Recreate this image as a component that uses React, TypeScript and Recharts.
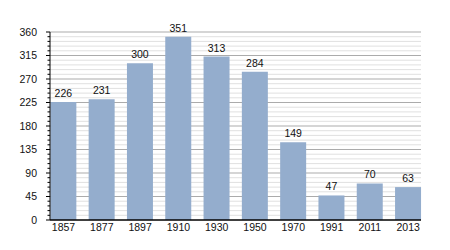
import React from "react";
import { BarChart, Bar, XAxis, YAxis, CartesianGrid, LabelList } from "recharts";

const years = ["1857", "1877", "1897", "1910", "1930", "1950", "1970", "1991", "2011", "2013"];
const population = [226, 231, 300, 351, 313, 284, 149, 47, 70, 63];
const majorTicks = [0, 45, 90, 135, 180, 225, 270, 315, 360];
const minorTicks = [
  9, 18, 27, 36, 54, 63, 72, 81, 99, 108, 117, 126, 144, 153, 162, 171, 189, 198, 207, 216,
  234, 243, 252, 261, 279, 288, 297, 306, 324, 333, 342, 351,
];
const allTicks = [...majorTicks, ...minorTicks].sort((a, b) => a - b);

const data = years.map((y, i) => ({ year: y, value: population[i] }));

const FONT = "'Liberation Sans', Arial, sans-serif";

const YTick = (props: any) => {
  const { x, y, payload } = props;
  const v = payload.value as number;
  const major = v % 45 === 0;
  return (
    <g>
      <line x1={x - (major ? 4 : 2.5)} x2={x} y1={y} y2={y} stroke="#000" strokeWidth={1} />
      {major && (
        <text x={x - 13} y={y} dy="0.355em" textAnchor="end" fontSize={10.5} fontFamily={FONT} fill="#111">
          {v}
        </text>
      )}
    </g>
  );
};

export default function App() {
  return (
    <div style={{ margin: -8, width: 450, height: 250, background: "#fff" }}>
      <BarChart
        width={450}
        height={250}
        data={data}
        margin={{ top: 32, right: 29, left: 0, bottom: 0 }}
      >
        <CartesianGrid vertical={false} horizontalValues={minorTicks} stroke="#e0e0e0" strokeWidth={1} />
        <CartesianGrid
          vertical={false}
          horizontalValues={majorTicks.filter((v) => v > 0)}
          stroke="#ababab"
          strokeWidth={1}
        />
        <XAxis
          dataKey="year"
          height={30}
          tickLine={false}
          tickSize={0}
          tickMargin={4}
          axisLine={{ stroke: "#000", strokeWidth: 1.5 }}
          padding={{ left: -5.65, right: -6.35 }}
          interval={0}
          tick={{ fontSize: 10.5, fontFamily: FONT, fill: "#111" }}
        />
        <YAxis
          width={50}
          domain={[0, 360]}
          ticks={allTicks}
          interval={0}
          tickSize={0}
          tickMargin={0}
          tickLine={false}
          axisLine={{ stroke: "#000", strokeWidth: 1 }}
          tick={<YTick />}
        />
        <Bar dataKey="value" fill="#94adcd" barSize={26} isAnimationActive={false}>
          <LabelList
            dataKey="value"
            position="top"
            offset={5}
            style={{ fontSize: 10.5, fontFamily: FONT, fill: "#111" }}
          />
        </Bar>
      </BarChart>
    </div>
  );
}
